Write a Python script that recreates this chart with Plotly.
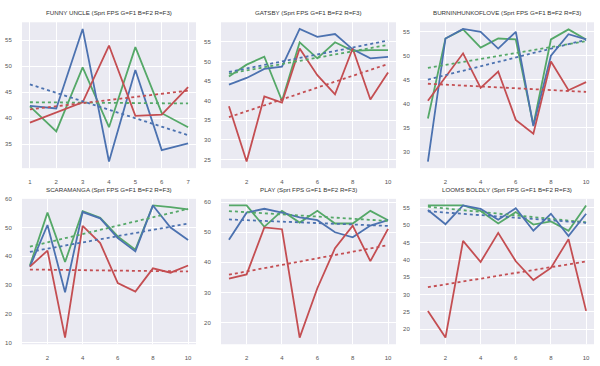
import numpy as np
import plotly.graph_objects as go

titles = ["FUNNY UNCLE", "GATSBY", "BURNINHUNKOFLOVE", "SCARAMANGA", "PLAY", "LOOMS BOLDLY"]
suffix = " (Sprt FPS G=F1 B=F2 R=F3)"

frames_short = [1, 2, 3, 4, 5, 6, 7]
frames_long = [1, 2, 3, 4, 5, 6, 7, 8, 9, 10]

funny_g = [42.3, 37.5, 49.8, 38.3, 53.7, 41.0, 38.3]
funny_b = [42.4, 41.9, 57.2, 31.7, 49.3, 33.9, 35.2]
funny_r = [39.2, 41.2, 43.1, 54.0, 40.5, 40.7, 46.0]

gatsby_g = [46.2, 49.2, 51.2, 40.0, 54.9, 50.8, 54.9, 52.7, 52.9, 52.9]
gatsby_b = [44.1, 45.8, 48.1, 48.7, 58.3, 56.3, 57.0, 53.1, 50.8, 51.2]
gatsby_r = [38.6, 24.5, 41.1, 39.5, 53.3, 46.5, 41.6, 53.3, 40.3, 47.2]

burn_g = [36.9, 53.6, 55.5, 51.7, 53.6, 53.4, 35.5, 53.4, 55.5, 53.4]
burn_b = [27.9, 53.6, 55.6, 55.0, 51.5, 55.0, 35.3, 50.0, 54.5, 53.4]
burn_r = [40.6, 45.5, 50.5, 43.3, 46.7, 36.6, 33.7, 48.8, 42.8, 44.5]

scara_g = [36.8, 55.2, 38.0, 55.7, 53.4, 46.9, 42.3, 57.7, 57.1, 56.3]
scara_b = [36.4, 50.9, 27.5, 55.4, 53.2, 46.3, 41.7, 57.7, 50.0, 45.7]
scara_r = [36.4, 42.0, 11.7, 50.6, 44.6, 30.7, 27.7, 35.8, 34.3, 36.8]

play_g = [58.9, 58.9, 51.8, 57.1, 53.2, 57.1, 52.9, 52.9, 57.1, 54.0]
play_b = [47.5, 56.5, 57.8, 56.5, 54.9, 54.0, 50.0, 48.3, 52.2, 54.0]
play_r = [34.6, 36.0, 51.6, 51.0, 15.0, 31.4, 44.7, 52.2, 40.4, 51.1]

looms_g = [55.7, 55.7, 55.7, 54.1, 50.5, 53.8, 50.2, 51.1, 48.4, 55.7]
looms_b = [54.4, 50.3, 55.7, 54.7, 51.6, 54.9, 48.4, 53.3, 46.9, 53.3]
looms_r = [25.3, 17.6, 45.5, 39.4, 47.8, 39.6, 34.2, 37.7, 46.0, 25.3]

panels = [
    (frames_short, funny_g, funny_b, funny_r),
    (frames_long, gatsby_g, gatsby_b, gatsby_r),
    (frames_long, burn_g, burn_b, burn_r),
    (frames_long, scara_g, scara_b, scara_r),
    (frames_long, play_g, play_b, play_r),
    (frames_long, looms_g, looms_b, looms_r),
]
x_dticks = [1, 2, 2, 2, 2, 2]
y_dticks = [5, 5, 5, 10, 10, 5]

colors = ["#55A868", "#4C72B0", "#C44E52"]
names = ["F1", "F2", "F3"]

dom_x = [[22 / 600, 196 / 600], [221 / 600, 396 / 600], [420 / 600, 594 / 600]]
dom_y = [[1 - 167 / 366, 1 - 19.5 / 366], [1 - 345 / 366, 1 - 198 / 366]]

fig = go.Figure()
layout = dict(
    width=600, height=366,
    margin=dict(l=0, r=0, t=0, b=0),
    paper_bgcolor="white",
    showlegend=False,
    font=dict(family="Liberation Sans, Arial, sans-serif", size=6, color="#555555"),
)
annotations = []

for i, (xs, g, b, r) in enumerate(panels):
    row, col = divmod(i, 3)
    sfx = "" if i == 0 else str(i + 1)
    xa, ya = "x" + sfx, "y" + sfx
    xarr = np.array(xs, dtype=float)
    allvals = []
    for ser, c, nm in zip((g, b, r), colors, names):
        fig.add_trace(go.Scatter(x=xs, y=ser, mode="lines", line=dict(color=c, width=1.8),
                                 name=nm, xaxis=xa, yaxis=ya))
        allvals += list(ser)
    for ser, c, nm in zip((g, b, r), colors, names):
        k, c0 = np.polyfit(xarr, np.array(ser), 1)
        trend = k * xarr + c0
        fig.add_trace(go.Scatter(x=xs, y=trend, mode="lines",
                                 line=dict(color=c, width=1.8, dash="dot"),
                                 name=nm + " trend", xaxis=xa, yaxis=ya))
        allvals += list(trend)
    lo, hi = min(allvals), max(allvals)
    pad = 0.05 * (hi - lo)
    xpad = 0.05 * (xs[-1] - xs[0])
    layout["xaxis" + sfx] = dict(
        domain=dom_x[col], anchor=ya, range=[xs[0] - xpad, xs[-1] + xpad],
        tick0=0, dtick=x_dticks[i], showgrid=True, gridcolor="white", gridwidth=1,
        zeroline=False, showline=False, ticks="outside", ticklen=8,
        tickcolor="rgba(0,0,0,0)", tickfont=dict(size=6, color="#555555"),
    )
    layout["yaxis" + sfx] = dict(
        domain=dom_y[row], anchor=xa, range=[lo - pad, hi + pad],
        tick0=0, dtick=y_dticks[i], showgrid=True, gridcolor="white", gridwidth=1,
        zeroline=False, showline=False, ticks="outside", ticklen=8,
        tickcolor="rgba(0,0,0,0)", tickfont=dict(size=6, color="#555555"),
    )
    annotations.append(dict(
        text=titles[i] + suffix, xref="paper", yref="paper",
        x=(dom_x[col][0] + dom_x[col][1]) / 2, y=dom_y[row][1] + 4 / 366,
        xanchor="center", yanchor="bottom", showarrow=False,
        font=dict(size=6.2, color="#333333"),
    ))

layout["annotations"] = annotations
layout["plot_bgcolor"] = "#EAEAF2"
fig.update_layout(**layout)
fig.write_html("out.html", config={"displayModeBar": False, "staticPlot": True},
               post_script="document.body.style.margin='0';document.body.style.overflow='hidden';")
